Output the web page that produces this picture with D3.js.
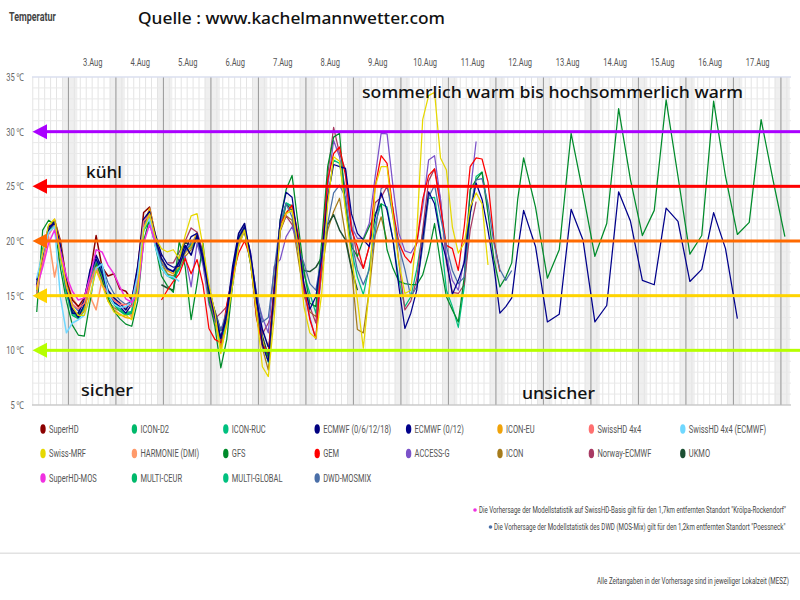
<!DOCTYPE html>
<html><head><meta charset="utf-8">
<script src="https://cdn.jsdelivr.net/npm/d3@7"></script>
<style>
html,body{margin:0;padding:0;background:#fff;overflow:hidden}
svg{display:block}
.nar{font-family:"Roboto","Noto Sans",sans-serif}
.ann{font-family:"Noto Sans","Open Sans",sans-serif;fill:#111;font-weight:500}
</style></head><body>
<svg id="c" width="800" height="600"></svg>
<script>
// hours are counted from 3 Aug 00:00 local time
const dayLabels=["3.Aug","4.Aug","5.Aug","6.Aug","7.Aug","8.Aug","9.Aug","10.Aug","11.Aug","12.Aug","13.Aug","14.Aug","15.Aug","16.Aug","17.Aug"];
const tempTicks=[5,10,15,20,25,30,35];
const bandLevels=[30,25,20,15,10];
const bandColors=["#aa00ff","#ff0000","#ff6a00","#ffd400","#b6ff00"];

const superHD=[15.8,18.2,21.2,21.9,20.0,16.4, 14.6,14.0,14.8,17.0,20.5,17.6,16.8,17.0, 15.6,15.4,14.6,17.5,22.6,23.1,20.4,18.6];
const iconD2=[15.0,19.0,21.3,21.8,18.6,15.2, 13.2,12.9,13.6,16.4,18.0,16.8,15.0,14.2, 13.6,13.2,13.4,16.2,21.0,22.0,19.6,17.5];
const iconRUC=[14.8,19.3,21.0,21.4,18.9,15.6, 13.5,13.2,14.0,16.8,18.3,17.2,15.4,14.6];
const ecmwf6=[16.4,18.6,21.3,21.6,19.2,15.8, 13.4,13.4,14.6,17.4,18.7,17.5,15.5,14.8, 14.3,13.7,14.6,17.7,22.0,22.7,20.1,18.4, 17.5,17.2,18.1,19.6,18.7,20.5,18.3,15.5, 13.1,11.1,13.4,17.7,20.7,21.6,18.6,14.6, 11.9,10.3];
const ecmwf12=[16.0,18.9,21.0,21.8,19.6,16.2, 13.8,13.0,14.2,17.0,18.4,17.0,15.2,14.4, 14.0,13.4,14.2,17.2,21.7,22.5,20.6,18.8, 17.9,17.6,17.7,19.2,20.4,20.7,18.6,15.8, 13.5,11.2,12.9,17.2,20.3,21.3,18.9,15.0, 10.5,9.0,15.5,21.9,24.45,24,20.1,16.1, 13.75,14.9,18.6,24,27,26.8,26.65,22.5, 20.7,20.1,19.5,22.2,24.4,22.8,20.1,15.8, 12,13.4,15.5,20.1,24.5,23.4,20.4,18.3, 15.1,16.4,18,22.5,25.3,23.8,21,17.65, 13.4,14,14.8,19.2,22.8];
const ecmwf12Tail=[19.5,12.6,13.3,22.9,20.1,12.6,14.1,24.5,21.8,16.4,16.0,23.0,21.8,16.3,17.4,22.6,19.3,12.9];
const iconEU=[15.6,18.4,21.2,22.0,19.6,16.0, 13.8,13.1,13.6,16.0,17.8,16.6,14.6,13.7, 13.3,13.0,12.9,15.4,21.4,23.0,20.5,18.3, 17.3,17.0,17.7,18.9,19.5,20.8,18.6,15.2, 12.7,10.1,12.3,16.4,19.9,21.0,18.4,14.2, 10.9,9.1,15.2,21.2,22.6,23.2,19.8,15.0];
const swissHD=[15.2,18.0,20.6,21.4,19.0,15.8, 14.2,13.8,14.3,16.2,17.6,16.0,15.2,14.6, 14.2,14.2,14.0,16.5,21.8,22.4,20.0];
const swissHDecmwf=[16.6,18.9,20.8,21.3,14.8,11.6, 12.5,12.8,13.2,15.0,17.5,17.9,15.2,14.2, 13.9,14.0,14.4,16.9,21.2,22.0,19.4,17.6, 16.8,16.7,16.3];
const swissMRF=[15.5,19,21.5,22,18.5,16, 14,13.2,13.2,15,17.3,16,14.5,13.5, 13.2,13.2,12.8,15.5,21,22.5,20.3,19.3, 19,19.2,18.4,20.5,22.3,22.5,19.5,16, 13.5,9.7,12.5,16,19.5,21,18,13.5, 8.5,7.6,13,21,22.5,22.8,19.6,14, 11.6,11.1,15.2,23.4,27.7,27.3,22.8,18.6, 14.6,10.2,15.5,25,26.8,26.8,22.2,18, 15.2,15.5,20.7,31.1,33.3,33.6,27.6,26.5, 21.3,18.9,19.8,23.1,24.4,23.4,17.8];
const harmonie=[16.0,18.5,20.4,16.7,19.4,16.6, 14.8,14.0,14.4,14.9,13.7,16.5,15.2,14.6, 14.4,13.9,13.0,17.5,19.5];
const gfs=[13.5,21,21.9,21.5,17.5,14.5, 12.3,11.4,11.3,14.5,18,16.5,14.8,13.6, 12.9,12.4,12.2,14.5,20,22,19.5,16.8, 15.9,15.3,20,17.65,12.8,16.1,19.8,14.6, 12.2,8.4,11,16.1,20.4,21.2,18.3,13.1, 10.65,9.4,16.1,21.9,24.7,26,21.6,17.3, 14.3,14,20,26.8,29.5,29.85,23.1,19.5, 18.6,20.1,21.3,22.5,23.4,19.2,17.5,16.3, 16.1,16,16,16.9,18.9,21.6,18,14.9, 13.7,12.6,16.7,24.7,25.6,26.3,22.5,18.3, 15.8,16.7,18,23.8,27.6];
const gfsTail=[23.1,16.6,19.2,29.85,24.4,18.6,21.6,32.1,25.6,20.5,22.8,32.9,25.9,18.8,20.5,32.8,25.9,20.6,21.7,31.1,25.6,20.4];
const gem=[14.6,15.5,16.3,17,18.4,17,18.3,16,12, 11,10.7,14.2,16.8,18.9,20,18.5,13, 10.5,9.8,15.8,21.6,22.5,23.3,20.7,15.8, 12.8,11.1,18.3,25.6,28,28.6,26,21, 19.5,17.5,19.5,25,27.8,27.1,22.8,19.8, 18.6,18,19.8,23.8,26,26.6,23.1,19.6, 19.3,17.3,21.3,26.8,27.6,27.5,25.4,20.1, 17.2];
const accessG=[17.4,17.3,18.2,18.6,15.8,19.8,17.8,14.2, 12.7,12.0,12.7,16.0,19.5,21.0,19.0,15.0, 13,11.6,17.7,18.3,20.4,21.3,19.8,15.5, 13,11,17.65,25,29.2,27.7,24.7,21.3, 20.25,20.25,21.6,25.9,29.85,29.8,25,20.7, 19.1,18.9,19.8,23.1,27.4,27.8,23.8,18.6, 16.4,15.5,18.3,24.4,29.1];
const icon=[15.5,18.6,21.4,21.7,19.3,15.9, 13.6,13.3,14,16.3,17.4,16.2,14.5,13.9, 13.6,13.4,13.2,15.8,21.2,22.4,20,18, 17,16.8,17.4,18.6,19.2,20.2,18,15.4, 13,10.3,12.6,16.8,20,21,18,13.8, 10.2,8.2,14.8,20.9,22.3,21.9,18.5,15, 13.5,13.1,17,21,22.7,23.9,20.5,17.5, 11.9,11.6,15.5,20.5,22.2,20];
const norway=[18,18,19,20,21.2,20.8,19,15, 12.9,13.4,14,17,20.5,21,18.5,14.5, 11.5,12.5,14,21,22.3,21.5,20,16, 14,12.5,19,26,30.4,28,26.5,21.5, 18.5,17.5,19.5,23.5,24,25,23,18, 13.7,14.5,16.5,21,25.5,26.6,23.8,18, 15.3,15.2,16,21,23.6];
const ukmo=[16,15.7,15.5,18.5,19.9,19.6,20.3,18.4,15.2, 13.6,11.8,12.9,16.6,19.9,20.9,18,14.3, 11.3,9.5,15,21,23.4,22.8,19.8,17.3, 17.2,17.6,18.5,21.5,22.4,21,20.1,17.5, 15.5];
const superMOS=[15.8,17.6,19.8,21,19,16.8, 15.4,14.6,14.8,16.8,19.2,19,17.8,17, 15.8,14.7,14.4,15.2,19.8,21.5,19.8];
const multiCEUR=[15.4,18.7,21.1,21.6,18.8,15.5, 13.4,13,13.9,16.5,18.1,16.9,15.1,14.3, 13.8,13.3,13.5,16.4,21.1,21.9,19.7,17.6, 16.9,16.6,17.6,19.2,19.6,20.6,18.2,15.3, 12.9,10.7,12.9,16.9,20.2,21.2,18.4,14.4, 10.8,9,15.4,21.4,23.4,23.2,20.2];
const multiGlobal=[15.5,18.5,21,21.5,19,15.7, 13.5,13.1,14,16.6,18,17,15.2,14.4, 13.9,13.4,13.6,16.5,21,21.7,19.5,17.5, 16.8,16.5,17.4,19,19.4,20.2,18,15.2, 12.8,10.8,12.8,16.8,20,21,18.3,14.3, 10.9,8.9,15.5,21.3,23.5,23.2,20.4,17, 15.2,13.4,18.6,23.8,27.4,27.1,23.5,19.2, 16.7,15.1,17.6,21.6,23.4,23.1,20.1,16.4, 14,14.9,17.4,20.7,23.9,24,20.7,15.5, 14,12.1,15.8,22.5,25.9,26.3,23];
const dwd=[16.2,18.8,21.2,21.5,19.2,16.1, 14.2,13.6,14.4,16.6,18.2,17.8,16.2,15.2, 14.6,14.2,14.5,17,21.5,22.4,19.9,18, 17.4,17.2,17.9,19,19.9,20.3,18.2,15.7, 13.5,11.8,13.6,17.2,20.4,21.4,18.5,15.3, 12.6,13,17.4,21.6,23.4,22.2,19.2,18, 16.1,15.5,18.6,21.6,24.4,25.1,24,20.1, 17.35,16,17.35,20.7,24.8,25.1,22.2,19.5, 17.4,14.9,15.8,19.5,24,25.1,22.2,19.5, 17.3,16.1,16.7,22.8,25.6,25.7,23.4,19.8, 17.4,16.4,17.3];

// name, colour, first hour of the 3-hourly values, values, optional 6-hourly tail
const models=[
 ["SuperHD","#8b0000",-16,superHD],["ICON-D2","#00b96b",-16,iconD2],["ICON-RUC","#00c07f",-16,iconRUC],["ECMWF (0/6/12/18)","#000080",-16,ecmwf6],
 ["ECMWF (0/12)","#00008b",-16,ecmwf12,ecmwf12Tail],["ICON-EU","#f0a30a",-16,iconEU],["SwissHD 4x4","#ff7070",-16,swissHD],["SwissHD 4x4 (ECMWF)","#70d8ff",-16,swissHDecmwf],
 ["Swiss-MRF","#e6d800",-16,swissMRF],["HARMONIE (DMI)","#ff9a6b",-16,harmonie],["GFS","#008b2b",-16,gfs,gfsTail],["GEM","#ff0000",47,gem],
 ["ACCESS-G","#7b52c9",50,accessG],["ICON","#a67c1c",-16,icon],["Norway-ECMWF","#a83a63",50,norway],["UKMO","#1c4f33",47,ukmo],
 ["SuperHD-MOS","#f030e0",-16,superMOS],["MULTI-CEUR","#00b96b",-16,multiCEUR],["MULTI-GLOBAL","#00c07f",-16,multiGlobal],["DWD-MOSMIX","#4a6fa8",-16,dwd]
];
const tailStart=236;
const drawOrder=["ICON","UKMO","HARMONIE (DMI)","ICON-RUC","ICON-D2","MULTI-CEUR","MULTI-GLOBAL","SuperHD","ICON-EU","Norway-ECMWF","ACCESS-G","GFS","GEM","DWD-MOSMIX","ECMWF (0/6/12/18)","ECMWF (0/12)","SwissHD 4x4","SwissHD 4x4 (ECMWF)","SuperHD-MOS","Swiss-MRF"];

const svg=d3.select("#c");
const x=d3.scaleLinear().domain([-18.4,365.1]).range([32,791]);
const y=d3.scaleLinear().domain([5,35]).range([405,77]);
const midnights=d3.range(0,16).map(d=>d*24);

// night bands
svg.append("g").selectAll("rect").data(midnights).join("rect")
 .attr("x",d=>x(d-3)).attr("y",y(35)).attr("width",d=>Math.min(x(d+4.5),791)-x(d-3)).attr("height",y(5)-y(35)).attr("fill","#efefef");

// grid
const g=svg.append("g").attr("fill","none");
g.selectAll(".v").data(d3.range(-18,366,3)).join("line").attr("class","v")
 .attr("x1",d=>x(d)).attr("x2",d=>x(d)).attr("y1",y(35)).attr("y2",y(5)).attr("stroke","#e4e4e4").attr("stroke-width",1);
g.selectAll(".h").data(d3.range(5,36)).join("line").attr("class","h")
 .attr("x1",x.range()[0]).attr("x2",x.range()[1]).attr("y1",d=>y(d)).attr("y2",d=>y(d)).attr("stroke","#e9e9e9").attr("stroke-width",1);
g.selectAll(".m").data(midnights).join("line").attr("class","m")
 .attr("x1",d=>x(d)).attr("x2",d=>x(d)).attr("y1",y(35)).attr("y2",y(5)).attr("stroke","#999").attr("stroke-width",1);
g.append("line").attr("x1",32).attr("x2",791).attr("y1",y(35)).attr("y2",y(35)).attr("stroke","#d3daf2").attr("stroke-width",1);
g.append("line").attr("x1",32).attr("x2",791).attr("y1",y(5)).attr("y2",y(5)).attr("stroke","#bbb").attr("stroke-width",1);

// axes
const yAxis=d3.axisLeft(y).tickValues(tempTicks).tickSize(0).tickFormat(d=>d+" ℃");
const ay=svg.append("g").attr("transform","translate(24,0)").call(yAxis);
ay.select(".domain").remove();
ay.selectAll("text").attr("class","nar").attr("font-size",10.5).attr("fill","#666").attr("x",0).attr("transform","scale(0.72,1)");
const xAxis=d3.axisTop(x).tickValues(dayLabels.map((d,i)=>12+24*i)).tickSize(0).tickFormat((d,i)=>dayLabels[i]);
const ax=svg.append("g").attr("transform","translate(0,66)").call(xAxis);
ax.select(".domain").remove();
ax.selectAll("text").attr("class","nar").attr("font-size",10.5).attr("fill","#555").attr("y",0).attr("transform","scale(0.72,1)");

// model lines
const line=d3.line().x(d=>x(d[0])).y(d=>y(d[1]));
const points=m=>{
 const p=m[3].map((v,i)=>[m[2]+3*i,v]);
 if(m[4]) m[4].forEach((v,i)=>p.push([tailStart+6*i,v]));
 return p;
};
const ordered=drawOrder.map(n=>models.find(m=>m[0]===n));
svg.append("g").selectAll("path").data(ordered).join("path")
 .attr("d",m=>line(points(m))).attr("fill","none").attr("stroke",m=>m[1])
 .attr("stroke-width",m=>m[3].length<=46?1.5:1.25).attr("stroke-linejoin","round");

// arrow reference lines
const arr=svg.append("g");
bandLevels.forEach((lv,i)=>{
 const yy=y(lv);
 arr.append("rect").attr("x",44).attr("y",yy-1.5).attr("width",756).attr("height",3).attr("fill",bandColors[i]);
 arr.append("path").attr("d",d3.line()([[32.5,yy],[47,yy-7.5],[47,yy+7.5]])+"Z").attr("fill",bandColors[i]);
});

// condensed text: natural glyphs squeezed horizontally to a target width
const squeezed=(s,xp,yp,sz,fill,target,factor)=>{
 const t=svg.append("text").attr("class","nar").attr("font-size",sz).attr("fill",fill).text(s);
 const w=t.node().getComputedTextLength();
 const k=target?target/w:factor;
 t.attr("transform",`translate(${xp},${yp}) scale(${k},1)`);
 return t;
};

// legend
const colX=d3.range(8).map(i=>43+i*91.4);
const rowY=[429,453.5,478];
models.forEach((m,i)=>{
 const c=i%8,r=Math.floor(i/8);
 svg.append("ellipse").attr("cx",colX[c]).attr("cy",rowY[r]).attr("rx",2.7).attr("ry",4.8).attr("fill",m[1]);
 squeezed(m[0],colX[c]+6,rowY[r]+3.5,10,"#555",null,0.75);
});

// title and annotations
const T=(s,xp,yp,sz,len)=>svg.append("text").attr("class","ann").attr("x",xp).attr("y",yp).attr("font-size",sz)
 .attr("textLength",len).attr("lengthAdjust","spacingAndGlyphs").text(s);
squeezed("Temperatur",9,21,12,"#444",46).attr("font-weight","bold");
T("Quelle : www.kachelmannwetter.com",138,24,16,307);
T("sommerlich warm bis hochsommerlich warm",362,98,16.5,381);
T("kühl",86,178,17,36);
T("sicher",81,396,17,52);
T("unsicher",522,399,17,73);

// footnotes
svg.append("circle").attr("cx",475).attr("cy",510).attr("r",1.8).attr("fill","#f030e0");
squeezed("Die Vorhersage der Modellstatistik auf SwissHD-Basis gilt für den 1,7km entfernten Standort \"Krölpa-Rockendorf\"",479,513,9.5,"#444",307);
svg.append("circle").attr("cx",490.5).attr("cy",527).attr("r",1.8).attr("fill","#4a6fa8");
squeezed("Die Vorhersage der Modellstatistik des DWD (MOS-Mix) gilt für den 1,2km entfernten Standort \"Poessneck\"",494,530,9.5,"#444",292);
svg.append("rect").attr("x",0).attr("y",552.5).attr("width",800).attr("height",1.5).attr("fill","#e2e2e2");
squeezed("Alle Zeitangaben in der Vorhersage sind in jeweiliger Lokalzeit (MESZ)",597,584,9.5,"#444",192);
</script>
</body></html>
